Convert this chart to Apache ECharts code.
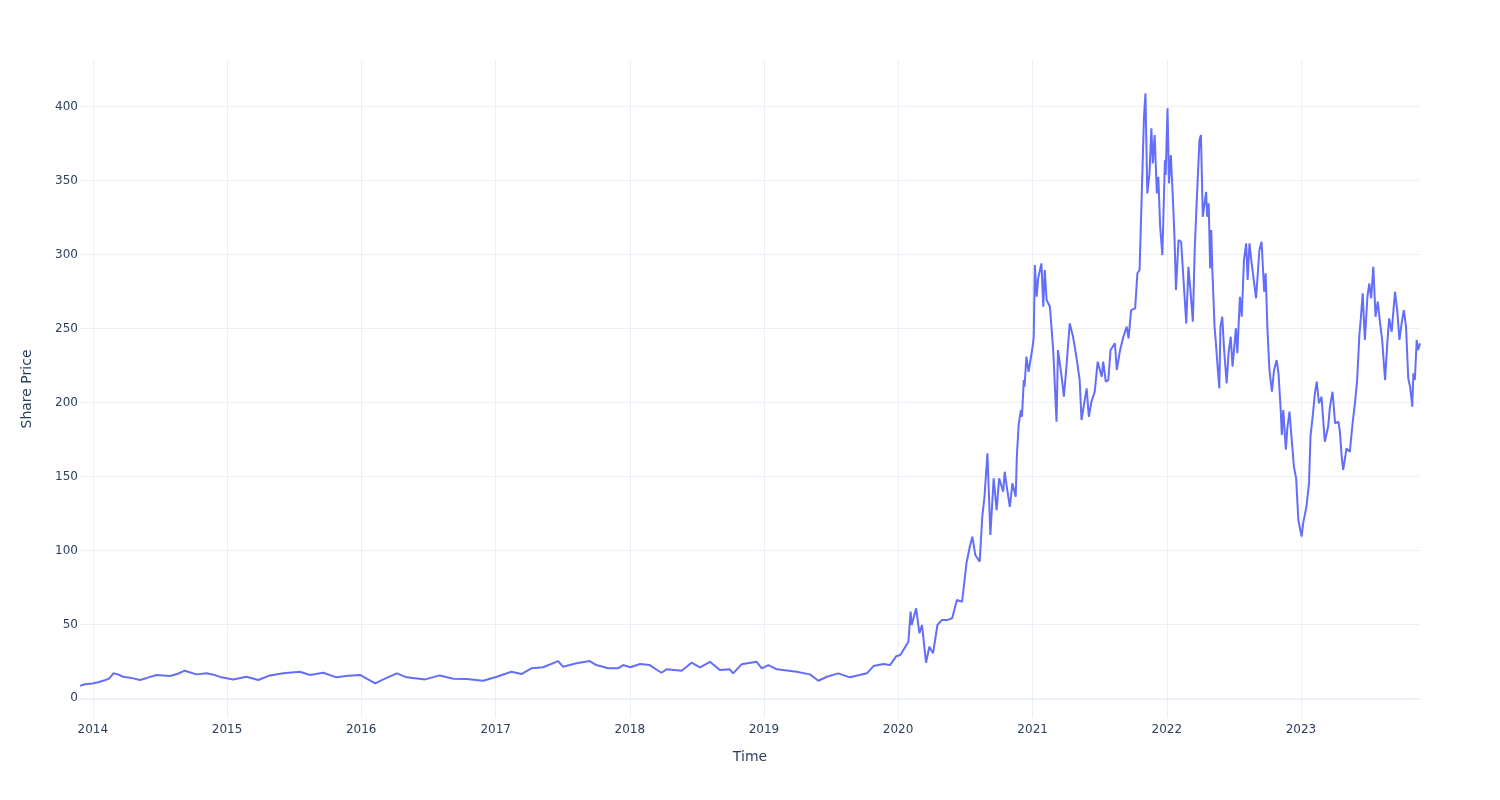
<!DOCTYPE html>
<html>
<head>
<meta charset="utf-8">
<script src="https://cdn.jsdelivr.net/npm/echarts@6/dist/echarts.min.js"></script>
<style>
html,body{margin:0;padding:0;background:#fff;}
#chart{width:1500px;height:800px;}
</style>
</head>
<body>
<div id="chart"></div>
<script>
// Dates and share prices
const dates = [
"2013-11-27","2013-12-10","2013-12-31","2014-01-15","2014-01-31","2014-02-14","2014-02-26","2014-03-10","2014-03-24","2014-04-03",
"2014-04-21","2014-05-09","2014-05-28","2014-06-23","2014-07-30","2014-08-20","2014-09-08","2014-10-10","2014-11-07","2014-11-25",
"2014-12-17","2015-01-18","2015-02-23","2015-03-27","2015-04-28","2015-06-03","2015-07-18","2015-08-15","2015-09-20","2015-10-26",
"2015-11-27","2015-12-29","2016-02-08","2016-03-10","2016-04-07","2016-05-04","2016-06-23","2016-08-02","2016-09-08","2016-10-14",
"2016-11-28","2017-01-04","2017-02-13","2017-03-12","2017-04-08","2017-05-10","2017-06-20","2017-07-03","2017-08-09","2017-09-14",
"2017-10-02","2017-11-03","2017-11-30","2017-12-14","2018-01-02","2018-01-29","2018-02-24","2018-03-28","2018-04-11","2018-05-22",
"2018-06-18","2018-07-11","2018-08-07","2018-09-03","2018-09-30","2018-10-09","2018-11-01","2018-12-12","2018-12-26","2019-01-13",
"2019-02-05","2019-03-31","2019-05-06","2019-05-29","2019-06-21","2019-07-22","2019-08-23","2019-10-08","2019-10-26","2019-11-22",
"2019-12-10","2019-12-27","2020-01-07","2020-01-29","2020-02-04","2020-02-07","2020-02-19","2020-02-28","2020-03-06","2020-03-17",
"2020-03-26","2020-04-05","2020-04-17","2020-04-29","2020-05-13","2020-05-27","2020-06-09","2020-06-23","2020-07-05","2020-07-14",
"2020-07-21","2020-07-29","2020-08-10","2020-08-17","2020-08-23","2020-08-31","2020-09-08","2020-09-17","2020-09-25","2020-10-02",
"2020-10-13","2020-10-17","2020-10-24","2020-10-31","2020-11-07","2020-11-16","2020-11-19","2020-11-24","2020-11-30","2020-12-03",
"2020-12-08","2020-12-10","2020-12-15","2020-12-21","2021-01-01","2021-01-04","2021-01-07","2021-01-12","2021-01-16","2021-01-25",
"2021-01-30","2021-02-03","2021-02-08","2021-02-17","2021-02-26","2021-03-07","2021-03-11","2021-03-21","2021-03-27","2021-04-03",
"2021-04-12","2021-04-21","2021-04-30","2021-05-09","2021-05-14","2021-05-28","2021-06-03","2021-06-10","2021-06-19","2021-06-27",
"2021-07-08","2021-07-12","2021-07-19","2021-07-26","2021-08-01","2021-08-13","2021-08-18","2021-08-27","2021-09-05","2021-09-14",
"2021-09-19","2021-09-26","2021-10-07","2021-10-13","2021-10-19","2021-10-25","2021-10-31","2021-11-04","2021-11-09","2021-11-15",
"2021-11-20","2021-11-24","2021-11-29","2021-12-05","2021-12-09","2021-12-14","2021-12-20","2021-12-27","2021-12-29","2022-01-03",
"2022-01-07","2022-01-12","2022-01-17","2022-01-22","2022-01-26","2022-02-02","2022-02-09","2022-02-15","2022-02-23","2022-03-01",
"2022-03-07","2022-03-13","2022-03-18","2022-03-24","2022-03-31","2022-04-04","2022-04-09","2022-04-18","2022-04-21","2022-04-25",
"2022-04-29","2022-05-02","2022-05-05","2022-05-11","2022-05-14","2022-05-20","2022-05-24","2022-05-27","2022-06-01","2022-06-06",
"2022-06-13","2022-06-18","2022-06-24","2022-06-29","2022-07-08","2022-07-12","2022-07-19","2022-07-24","2022-07-30","2022-08-05",
"2022-08-09","2022-08-14","2022-08-20","2022-09-01","2022-09-10","2022-09-16","2022-09-23","2022-09-27","2022-10-02","2022-10-07",
"2022-10-14","2022-10-20","2022-10-27","2022-11-01","2022-11-07","2022-11-10","2022-11-14","2022-11-21","2022-11-25","2022-12-01",
"2022-12-07","2022-12-13","2022-12-19","2022-12-25","2023-01-03","2023-01-07","2023-01-16","2023-01-23","2023-01-27","2023-02-02",
"2023-02-08","2023-02-13","2023-02-19","2023-02-26","2023-03-07","2023-03-16","2023-03-21","2023-03-28","2023-04-04","2023-04-13",
"2023-04-17","2023-04-22","2023-04-26","2023-05-05","2023-05-14","2023-05-22","2023-05-28","2023-06-03","2023-06-09","2023-06-13",
"2023-06-18","2023-06-24","2023-07-01","2023-07-06","2023-07-11","2023-07-17","2023-07-23","2023-07-29","2023-08-04","2023-08-10",
"2023-08-18","2023-08-24","2023-08-29","2023-09-05","2023-09-14","2023-09-20","2023-09-26","2023-10-02","2023-10-08","2023-10-14",
"2023-10-20","2023-10-25","2023-10-31","2023-11-03","2023-11-07","2023-11-12","2023-11-16","2023-11-21"
];
const prices = [
8.4,9.5,10.0,10.9,12.0,13.3,16.9,16.2,14.6,14.2,
13.5,12.4,13.8,15.8,15.1,16.6,18.7,16.2,16.9,16.0,
14.2,12.8,14.6,12.4,15.5,16.9,18.0,15.8,17.3,14.2,
15.3,15.8,10.1,13.8,16.9,14.2,12.8,15.5,13.3,13.1,
11.9,14.6,18.0,16.4,20.3,21.0,25.2,21.4,23.7,25.2,
22.5,20.3,20.3,22.5,21.0,23.2,22.5,17.3,19.6,18.7,
24.1,21.0,24.7,19.1,19.6,16.9,23.0,24.7,20.3,22.5,
19.6,18.0,16.2,11.9,14.6,16.9,14.2,16.9,21.8,23.2,
22.5,28.5,29.3,38.3,58.6,49.6,60.9,44.0,49.6,24.1,
34.9,30.4,49.6,52.9,52.9,54.1,66.5,65.3,91.3,102.5,
109.3,96.9,92.4,122.8,136.3,165.7,110.4,148.7,127.3,148.7,
139.7,153.2,140.8,129.5,145.4,136.3,163.3,185.0,194.9,190.4,
215.2,210.7,231.0,220.8,237.7,244.5,293.0,271.5,284.0,294.1,
264.8,289.6,269.3,264.8,235.5,187.0,235.5,217.4,203.9,224.2,
253.5,244.5,231.0,215.2,188.2,209.6,190.4,200.5,207.3,227.6,
217.4,227.6,214.1,215.2,235.5,240.0,222.0,235.5,244.5,251.3,
243.4,262.5,263.7,287.4,289.6,341.4,393.2,409.0,341.4,355.0,
385.4,361.7,380.8,341.4,352.6,318.9,299.7,363.8,353.8,398.9,
348.2,367.3,341.4,312.1,276.1,309.9,308.7,285.0,253.5,291.8,
273.8,254.6,303.1,339.1,377.5,380.9,325.6,342.5,325.6,334.7,
290.7,316.6,289.6,251.3,242.3,222.0,209.6,251.3,258.0,235.5,
213.0,233.3,244.5,224.2,250.2,233.3,271.5,258.0,296.3,307.6,
282.8,307.6,294.1,270.5,303.1,308.7,274.9,287.4,249.0,223.1,
207.3,222.0,228.7,219.7,194.9,178.0,194.9,168.1,182.5,193.8,
174.6,156.6,148.7,120.5,109.3,118.3,129.5,145.4,176.9,190.4,
206.2,214.1,199.5,203.9,173.5,183.6,197.2,207.3,186.0,187.0,
180.3,163.3,154.4,169.0,166.7,187.0,199.5,215.2,245.6,256.9,
273.8,242.3,271.5,280.6,270.5,291.8,258.0,268.2,254.6,242.3,
215.2,240.0,256.9,247.9,274.9,262.5,242.3,253.5,262.5,251.3,
216.4,210.7,197.2,219.7,215.2,242.3,235.5,240.0
];
const yMin = -13.3, yMax = 431.6;
const xTitle = "Time", yTitle = "Share Price";

const seriesData = dates.map((d, i) => [d, prices[i]]);
const fontFam = '"DejaVu Sans", Verdana, sans-serif';
const txt = '#2a3f5f';
const grid = '#EBF0F8';

const chart = echarts.init(document.getElementById('chart'), null, {renderer: 'canvas'});
chart.setOption({
  animation: false,
  backgroundColor: '#fff',
  grid: {left: 80, right: 80, top: 60, bottom: 82, containLabel: false},
  xAxis: {
    type: 'time',
    min: 'dataMin',
    max: 'dataMax',
    splitNumber: 10,
    minInterval: 365 * 86400000,
    name: xTitle,
    nameLocation: 'middle',
    nameGap: 32,
    nameTextStyle: {color: txt, fontSize: 14, fontFamily: fontFam},
    axisLine: {show: false},
    axisTick: {show: false},
    axisLabel: {
      color: txt, fontSize: 12, fontFamily: fontFam, margin: 6,
      formatter: function (v) { return String(new Date(v).getFullYear()); },
      showMinLabel: false, showMaxLabel: false
    },
    splitLine: {show: true, showMinLine: false, showMaxLine: false, lineStyle: {color: grid, width: 1}}
  },
  yAxis: {
    type: 'value',
    min: yMin,
    max: yMax,
    splitNumber: 9,
    name: yTitle,
    nameLocation: 'middle',
    nameRotate: 90,
    nameGap: 46,
    nameTextStyle: {color: txt, fontSize: 14, fontFamily: fontFam},
    axisLine: {show: false},
    axisTick: {show: false},
    axisLabel: {color: txt, fontSize: 12, fontFamily: fontFam, margin: 2, showMinLabel: false, showMaxLabel: false},
    splitLine: {show: true, showMinLine: false, showMaxLine: false, lineStyle: {color: grid, width: 1}}
  },
  series: [{
    type: 'line',
    data: seriesData,
    showSymbol: false,
    symbol: 'none',
    lineStyle: {color: '#636efa', width: 2},
    itemStyle: {color: '#636efa'},
    markLine: {
      silent: true,
      symbol: 'none',
      label: {show: false},
      lineStyle: {color: grid, width: 2, type: 'solid'},
      data: [{yAxis: 0}],
      z: 1
    },
    z: 3
  }]
});
</script>
</body>
</html>
